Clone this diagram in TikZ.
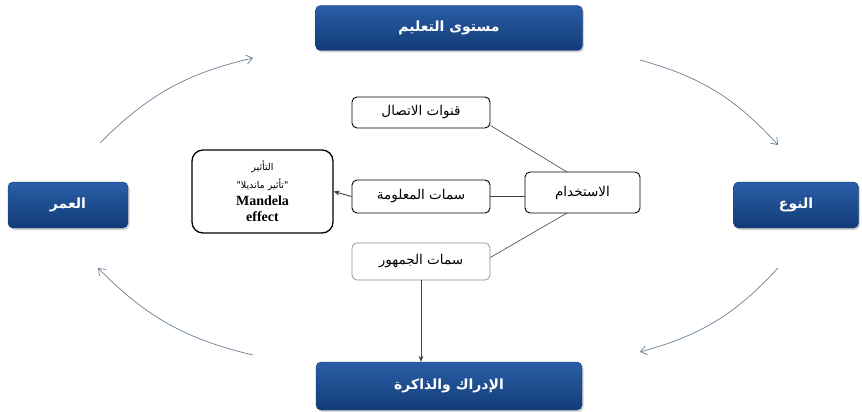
\documentclass[tikz,border=0pt]{standalone}
\usepackage{fontspec}
\setmainfont{Liberation Serif}
\newfontfamily\arabicfont[Script=Arabic]{DejaVu Sans}
\TeXXeTstate=1
\usetikzlibrary{arrows.meta,shadows}
\definecolor{navytop}{HTML}{2A5EA6}
\definecolor{navybot}{HTML}{123C78}
\definecolor{arrowgray}{HTML}{6A7F94}
\tikzset{
  bluebox/.style={rounded corners=5pt, top color=navytop, bottom color=navybot, draw=navybot,
    drop shadow={shadow xshift=1.5pt, shadow yshift=-2pt, opacity=0.35},
    text=white, font=\arabicfont\bfseries\fontsize{14}{16}\selectfont, inner sep=0pt},
  whitebox/.style={rounded corners=5pt, draw=black, line width=0.9pt, fill=white,
    font=\arabicfont\fontsize{13.5}{16}\selectfont, inner sep=0pt},
  cyclearrow/.style={draw=arrowgray, line width=0.7pt, -{Straight Barb[length=6pt,width=9pt]}},
  link/.style={draw=black!75, line width=0.6pt},
  linkarrow/.style={draw=black!75, line width=0.9pt, -{Stealth[length=6pt,width=5pt]}}
}
\begin{document}
\begin{tikzpicture}[x=1pt,y=-1pt]
\useasboundingbox (0,0) rectangle (862,412);
% blue boxes
\node[bluebox, minimum width=267pt, minimum height=45pt] (top) at (449,28) {\beginR مستوى التعليم\endR};
\node[bluebox, minimum width=120pt, minimum height=46pt] (left) at (68,205) {\beginR العمر\endR};
\node[bluebox, minimum width=125pt, minimum height=46pt] (right) at (796,205) {\beginR النوع\endR};
\node[bluebox, minimum width=266pt, minimum height=48pt] (bottom) at (449,386) {\beginR الإدراك والذاكرة\endR};
% inner boxes
\node[whitebox, minimum width=138pt, minimum height=31pt] (chan) at (421,112.5) {\beginR قنوات الاتصال\endR};
\node[whitebox, minimum width=138pt, minimum height=33pt] (info) at (421,196.5) {\beginR سمات المعلومة\endR};
\node[whitebox, draw=black!45, line width=0.7pt, minimum width=138pt, minimum height=37pt] (aud) at (421,261.5) {\beginR سمات الجمهور\endR};
\node[whitebox, minimum width=115pt, minimum height=41pt] (use) at (582.5,192.5) {\beginR الاستخدام\endR};
\node[whitebox, rounded corners=11pt, line width=1.3pt, minimum width=141pt, minimum height=83pt, align=center] (mand) at (262.5,191.5)
  {{\arabicfont\fontsize{9.5}{11}\selectfont\beginR التأثير\endR}\\[2pt]
   {\arabicfont\fontsize{9.5}{11}\selectfont\beginR "تأثير مانديلا"\endR}\\[1pt]
   {\rmfamily\bfseries\fontsize{14}{14}\selectfont Mandela}\\
   {\rmfamily\bfseries\fontsize{14}{14}\selectfont effect}};
% connectors
\coordinate (useTop) at (567,172);
\coordinate (useBot) at (567,213);
\draw[link] (chan.south east) ++(0,-3) -- (useTop);
\draw[link] (info.east) -- (info.east -| use.west);
\draw[link] (useBot) -- ([yshift=4pt]aud.east);
\draw[linkarrow] (info.west) -- (mand.east);
\draw[linkarrow] (aud.south) -- (aud.south |- bottom.north);
% cycle arrows
\coordinate (a1s) at (100,143); \coordinate (a1e) at (253,58);
\coordinate (a2s) at (640,60);  \coordinate (a2e) at (778,145);
\coordinate (a3s) at (778,268); \coordinate (a3e) at (640,352);
\coordinate (a4s) at (253,355); \coordinate (a4e) at (98,268);
\draw[cyclearrow] (a1s) to[bend left=16] (a1e);
\draw[cyclearrow] (a2s) to[bend left=16] (a2e);
\draw[cyclearrow] (a3s) to[bend left=16] (a3e);
\draw[cyclearrow] (a4s) to[bend left=16] (a4e);
\end{tikzpicture}
\end{document}
